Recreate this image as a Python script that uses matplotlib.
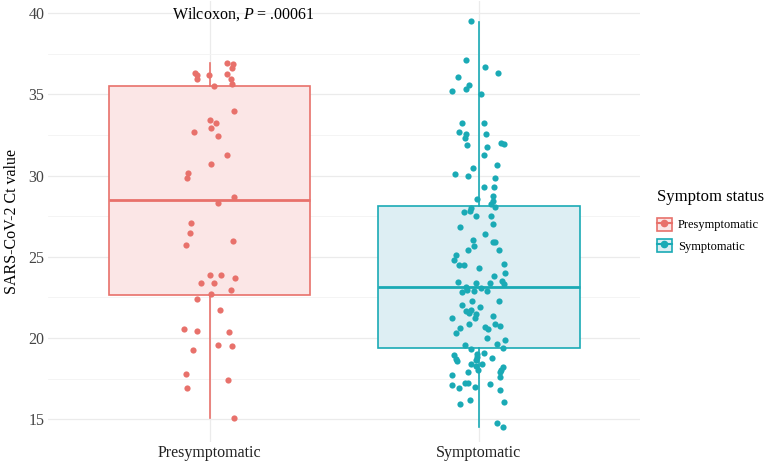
import matplotlib
matplotlib.use("Agg")
import matplotlib.pyplot as plt
from matplotlib.patches import Patch
from matplotlib.lines import Line2D
import numpy as np

# Categorias e cores
grupos = ["Presymptomatic", "Symptomatic"]
cores = ["#E8716B", "#1AAAB5"]
preenchimento = ["#FBE6E6", "#DDEEF3"]

# Valores de Ct e deslocamento horizontal (jitter)
pre_ct = [36.96, 36.88, 36.63, 36.34, 36.20, 36.22, 36.24, 35.94, 35.94, 35.63,
          35.50, 33.98, 33.43, 33.25, 32.94, 32.67, 32.44, 31.27, 30.72, 30.17,
          29.86, 28.71, 28.34, 27.09, 26.49, 25.98, 25.75, 23.90, 23.90, 23.68,
          23.39, 23.41, 22.96, 22.70, 22.39, 21.73, 20.54, 20.44, 20.36, 19.56,
          19.53, 19.27, 17.79, 17.40, 16.95, 15.10]
pre_jit = [0.064, 0.088, 0.083, -0.053, -0.047, -0.001, 0.064, -0.045, 0.081, 0.083,
           0.017, 0.092, 0.002, 0.023, 0.007, -0.056, 0.030, 0.064, 0.007, -0.080,
           -0.083, 0.092, 0.031, -0.067, -0.072, 0.086, -0.087, 0.002, 0.041, 0.096,
           -0.031, 0.016, 0.081, 0.007, -0.046, 0.040, -0.094, -0.047, 0.073, 0.030,
           0.082, -0.060, -0.088, 0.070, -0.083, 0.091]

sint_ct = [39.51, 37.11, 36.71, 36.32, 36.10, 35.59, 35.34, 35.22, 35.01, 33.26,
           33.26, 32.69, 32.57, 32.57, 32.34, 32.00, 31.93, 31.87, 31.79, 31.27,
           30.68, 30.46, 30.09, 29.98, 29.88, 29.29, 29.30, 28.75, 28.55, 28.44,
           28.24, 28.05, 27.99, 27.85, 27.76, 27.50, 27.52, 27.03, 26.84, 26.41,
           26.02, 25.94, 25.92, 25.65, 25.44, 25.42, 25.12, 24.81, 24.48, 24.48,
           24.56, 24.30, 24.03, 23.81, 23.44, 23.37, 23.37, 23.50, 23.35, 23.17,
           23.09, 22.98, 22.92, 22.90, 22.84, 22.30, 22.27, 22.06, 21.93, 21.67,
           21.73, 21.48, 21.53, 21.24, 21.26, 21.34, 20.87, 20.89, 20.70, 20.73,
           20.56, 20.60, 20.33, 19.99, 19.90, 19.66, 19.41, 19.59, 19.33, 19.08,
           19.04, 18.98, 18.84, 18.76, 18.73, 18.67, 18.59, 18.41, 18.42, 18.30,
           18.24, 18.04, 18.05, 17.89, 17.89, 17.62, 17.75, 17.22, 17.25, 17.19,
           17.11, 16.91, 16.99, 16.80, 16.08, 16.19, 15.96, 14.79, 14.54]
sint_jit = [-0.027, -0.046, 0.024, 0.070, -0.076, -0.037, -0.046, -0.099, 0.007, -0.063,
            0.019, -0.073, -0.046, 0.028, -0.051, 0.084, 0.095, -0.044, 0.031, 0.021,
            0.069, -0.022, -0.088, -0.041, 0.060, 0.020, 0.058, 0.054, -0.005, 0.052,
            0.047, 0.059, -0.030, -0.032, -0.056, -0.010, 0.047, 0.053, -0.069, 0.023,
            -0.022, 0.052, 0.059, -0.017, -0.039, 0.076, -0.083, -0.091, -0.072, -0.056,
            0.094, 0.002, 0.097, 0.056, -0.076, -0.010, 0.043, 0.086, 0.095, -0.048,
            0.010, -0.043, -0.016, 0.031, -0.062, 0.076, -0.026, -0.063, 0.006, -0.048,
            -0.030, -0.011, -0.035, -0.098, -0.013, 0.052, 0.061, -0.037, 0.022, 0.080,
            0.034, -0.069, -0.086, 0.032, 0.096, 0.069, 0.091, -0.052, -0.030, 0.021,
            -0.005, -0.091, -0.007, 0.050, -0.083, -0.011, -0.079, -0.027, 0.012, -0.009,
            0.091, 0.083, -0.004, 0.079, -0.039, 0.078, -0.098, -0.050, -0.040, 0.042,
            -0.099, -0.073, -0.015, 0.079, 0.094, -0.033, -0.070, 0.067, 0.091]

# Estatisticas das caixas
mediana = [28.52, 23.13]
q1 = [22.65, 19.39]
q3 = [35.52, 28.13]
bigode_inf = [15.10, 14.54]
bigode_sup = [36.92, 39.47]

plt.rcParams["font.family"] = ["Liberation Serif", "DejaVu Serif"]
plt.rcParams["mathtext.fontset"] = "custom"
plt.rcParams["mathtext.it"] = "Liberation Serif:italic"
plt.rcParams["mathtext.rm"] = "Liberation Serif"

fig = plt.figure(figsize=(7.68, 4.65), dpi=100)
ax = fig.add_axes([0.0625, 0.0495, 0.7711, 0.9485])

# Caixas
for i in range(2):
    stats = [{"med": mediana[i], "q1": q1[i], "q3": q3[i],
              "whislo": bigode_inf[i], "whishi": bigode_sup[i], "fliers": []}]
    ax.bxp(stats, positions=[i + 1], widths=0.75, patch_artist=True,
           showcaps=False, showfliers=False,
           boxprops=dict(facecolor=preenchimento[i], edgecolor=cores[i], linewidth=1.2),
           medianprops=dict(color=cores[i], linewidth=2.0),
           whiskerprops=dict(color=cores[i], linewidth=1.2), zorder=2)

# Pontos
ax.scatter(1 + np.array(pre_jit), pre_ct, s=20, color=cores[0], zorder=3, linewidths=0)
ax.scatter(2 + np.array(sint_jit), sint_ct, s=20, color=cores[1], zorder=3, linewidths=0)

ax.set_xlim(0.4, 2.6)
ax.set_ylim(13.60, 40.76)
ax.set_xticks([1, 2])
ax.set_xticklabels(grupos, fontsize=11.5, color="#222222")
ax.set_yticks([15, 20, 25, 30, 35, 40])
ax.set_yticks([17.5, 22.5, 27.5, 32.5, 37.5], minor=True)
ax.tick_params(axis="y", labelsize=11.5, labelcolor="#444444")
ax.tick_params(which="both", length=0, pad=2.5)
ax.grid(which="major", color="#EBEBEB", linewidth=0.9, zorder=0)
ax.grid(which="minor", axis="y", color="#F3F3F3", linewidth=0.6, zorder=0)
ax.set_axisbelow(True)
for s in ax.spines.values():
    s.set_visible(False)
ax.set_ylabel("SARS-CoV-2 Ct value", fontsize=11.5, labelpad=6)

ax.text(1.128, 39.95, "Wilcoxon, $\\it{P}$ = .00061", ha="center", va="center", fontsize=11.5)

# Legenda
handles = []
for i in range(2):
    caixa = Patch(facecolor=preenchimento[i], edgecolor=cores[i], linewidth=1.2)
    ponto = Line2D([], [], marker="o", color=cores[i], linestyle="-", markersize=4.5)
    handles.append((caixa, ponto))
leg = fig.legend(handles, grupos, title="Symptom status", loc="center left",
                 bbox_to_anchor=(0.855, 0.525), frameon=False, fontsize=9,
                 title_fontsize=12, handlelength=1.2, handleheight=1.2,
                 handletextpad=0.5, labelspacing=0.6, borderpad=0, borderaxespad=0)
leg._legend_box.align = "left"
leg._legend_box.sep = 9

fig.savefig("out.png", dpi=100, facecolor="white")
